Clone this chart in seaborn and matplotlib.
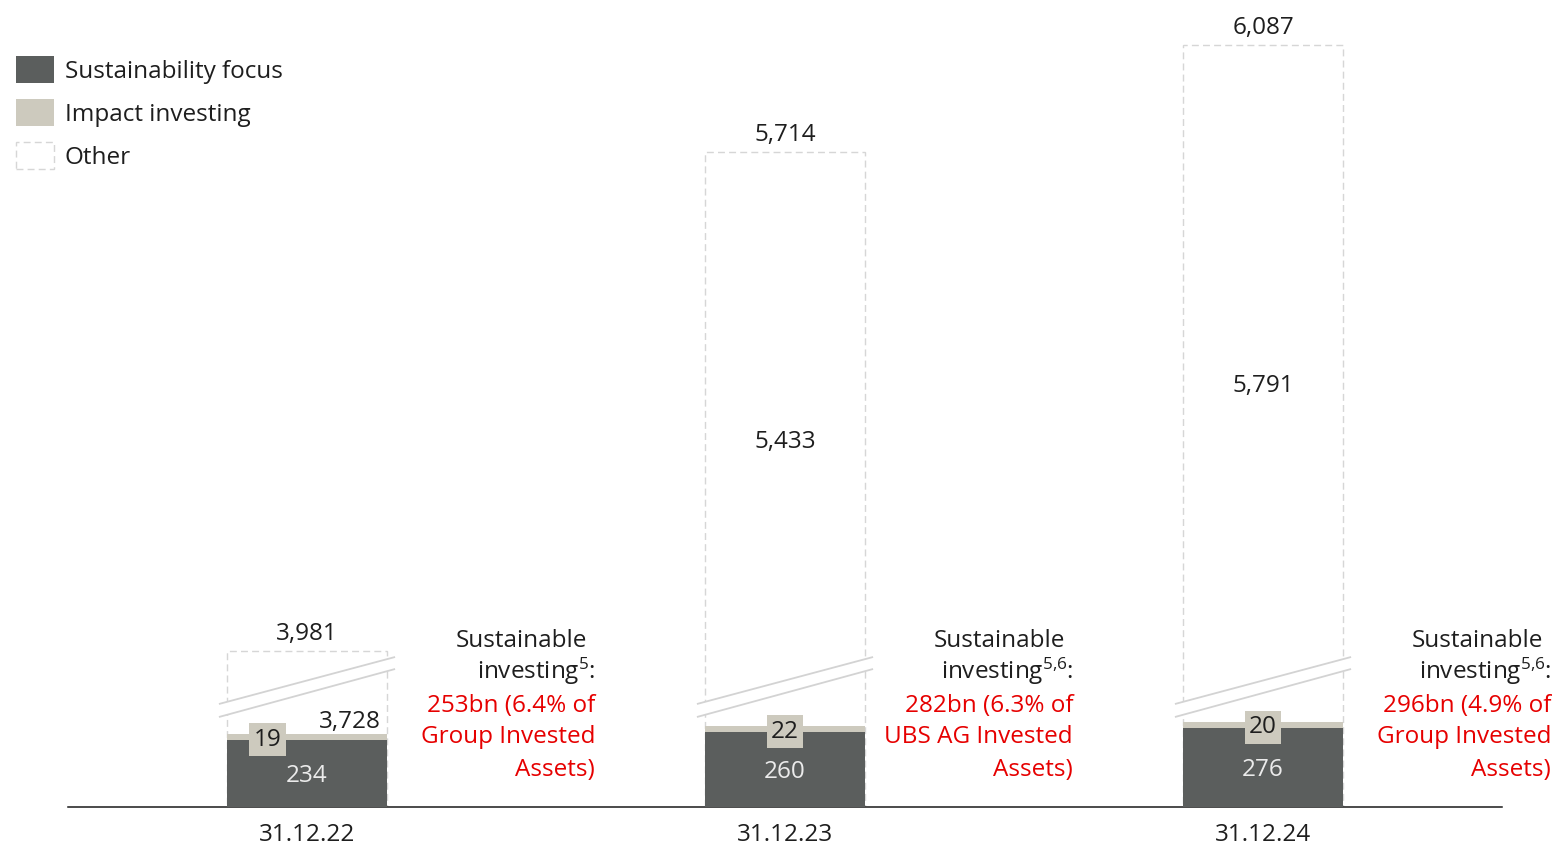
import matplotlib
matplotlib.use("Agg")
import matplotlib.pyplot as plt
import seaborn as sns
import pandas as pd
from matplotlib.patches import Patch, Polygon

# ---- data (CHF bn) ----
dates = ["31.12.22", "31.12.23", "31.12.24"]
sustainability_focus = [234, 260, 276]
impact_investing = [19, 22, 20]
other = [3728, 5433, 5791]
totals = [3981, 5714, 6087]
sustainable_investing = [253, 282, 296]
invested_assets_share = ["6.4%", "6.3%", "4.9%"]
asset_base = ["Group", "UBS AG", "Group"]
footnotes = ["5", "5{,}6", "5{,}6"]

# amount of "Other" removed by the axis break
BREAK_CUT = 3437

# ---- style ----
DARK = "#5b5e5d"
LIGHT = "#cdcabe"
EDGE = "#d6d6d6"
BREAK = "#d3d3d3"
TEXT = "#1e1e1e"
RED = "#e60000"
FS = 17.5

sns.set_theme(style="white")
plt.rcParams["font.family"] = ["Open Sans", "DejaVu Sans"]
plt.rcParams["mathtext.fontset"] = "custom"
plt.rcParams["mathtext.rm"] = "Open Sans"
plt.rcParams["mathtext.default"] = "regular"

DPI = 100
W, H = 1552, 847
fig = plt.figure(figsize=(W / DPI, H / DPI), dpi=DPI)
AX_L, AX_R, AX_B = 68, 1502, 807  # pixel extents of the plotting area
ax = fig.add_axes([AX_L / W, (H - AX_B) / H, (AX_R - AX_L) / W, AX_B / H])

YMAX = 2807
BAR_W = 0.335
PXX = 3.0 / (AX_R - AX_L)   # data units per pixel, x
PXY = YMAX / AX_B           # data units per pixel, y

df = pd.DataFrame({
    "date": dates,
    "focus": sustainability_focus,
    "impact": impact_investing,
    "other": other,
})
df["impact_top"] = df["focus"] + df["impact"]
df["shown_top"] = df["impact_top"] + df["other"] - BREAK_CUT

# stacked bars drawn tallest first so each segment overlays the previous
sns.barplot(data=df, x="date", y="shown_top", color="white", saturation=1,
            width=BAR_W, edgecolor=EDGE, linewidth=1, linestyle=(0, (5, 3)),
            errorbar=None, ax=ax, zorder=2)
sns.barplot(data=df, x="date", y="impact_top", color=LIGHT, saturation=1,
            width=BAR_W, linewidth=0, errorbar=None, ax=ax, zorder=3)
sns.barplot(data=df, x="date", y="focus", color=DARK, saturation=1,
            width=BAR_W, linewidth=0, errorbar=None, ax=ax, zorder=4)

ax.set_xlim(-0.5, 2.5)
ax.set_ylim(0, YMAX)
ax.set_xlabel("")
ax.set_ylabel("")
ax.set_yticks([])
for side in ("left", "right", "top"):
    ax.spines[side].set_visible(False)
ax.spines["bottom"].set_color("#1a1a1a")
ax.spines["bottom"].set_linewidth(1.1)
ax.tick_params(axis="x", length=0, pad=11.5, labelsize=FS, labelcolor=TEXT)


def label(x, y, s, dx=0.0, dy=0.0, **kw):
    kw.setdefault("fontsize", FS)
    kw.setdefault("color", TEXT)
    kw.setdefault("va", "baseline")
    ax.annotate(s, xy=(x, y), xytext=(dx * 72 / DPI, dy * 72 / DPI),
                textcoords="offset points", annotation_clip=False, zorder=8, **kw)


IMPACT_DX = [-39.5, 0, 0]
HALF_CAP = 8.6

for i, row in df.iterrows():
    f, im, ot = row["focus"], row["impact"], row["other"]
    top = row["shown_top"]
    # axis-break band across the "Other" segment
    xl = i - BAR_W / 2 - 8 * PXX
    xr = i + BAR_W / 2 + 8 * PXX
    lo = (90 * PXY, 138 * PXY)
    up = (103 * PXY, 150 * PXY)
    ax.add_patch(Polygon([(xl, lo[0]), (xr, lo[1]), (xr, up[1]), (xl, up[0])],
                         closed=True, fc="white", ec="none", zorder=5))
    ax.plot([xl, xr], lo, color=BREAK, lw=1.3, zorder=6, solid_capstyle="butt")
    ax.plot([xl, xr], up, color=BREAK, lw=1.3, zorder=6, solid_capstyle="butt")

    label(i, f / 2, f"{f}", dy=-HALF_CAP, ha="center", color="#ebebeb")
    label(i, f + im / 2, f"{im}", dx=IMPACT_DX[i], dy=-HALF_CAP, ha="center",
          bbox=dict(boxstyle="square,pad=0.18", fc=LIGHT, ec="none"))
    if i == 0:
        label(i + BAR_W / 2, f + im, f"{ot:,}", dx=-6, dy=6, ha="right")
    else:
        label(i, (f + im + top) / 2, f"{ot:,}", dy=-HALF_CAP, ha="center")
    label(i, top, f"{totals[i]:,}", dy=11, ha="center")

    # side note: sustainable investing total
    xe = i + BAR_W / 2
    label(xe, 0, "Sustainable", dx=200, dy=160.5, ha="right")
    label(xe, 0, f"investing$^{{{footnotes[i]}}}$:", dx=208, dy=128, ha="right")
    label(xe, 0, f"{sustainable_investing[i]}bn ({invested_assets_share[i]} of",
          dx=208, dy=95.3, ha="right", color=RED)
    label(xe, 0, f"{asset_base[i]} Invested", dx=208, dy=63.7, ha="right", color=RED)
    label(xe, 0, "Assets)", dx=208, dy=31.3, ha="right", color=RED)

handles = [
    Patch(facecolor=DARK, edgecolor="none"),
    Patch(facecolor=LIGHT, edgecolor="none"),
    Patch(facecolor="white", edgecolor=EDGE, linestyle=(0, (5, 3)), linewidth=1),
]
leg = fig.legend(handles, ["Sustainability focus", "Impact investing", "Other"],
                 loc="upper left", bbox_to_anchor=(16 / W, 1 - 56 / H),
                 frameon=False, fontsize=FS, handlelength=1.564, handleheight=1.332,
                 labelspacing=0.64, handletextpad=0.45, borderpad=0,
                 borderaxespad=0)
for t in leg.get_texts():
    t.set_color(TEXT)

fig.savefig("out.png", dpi=DPI)
